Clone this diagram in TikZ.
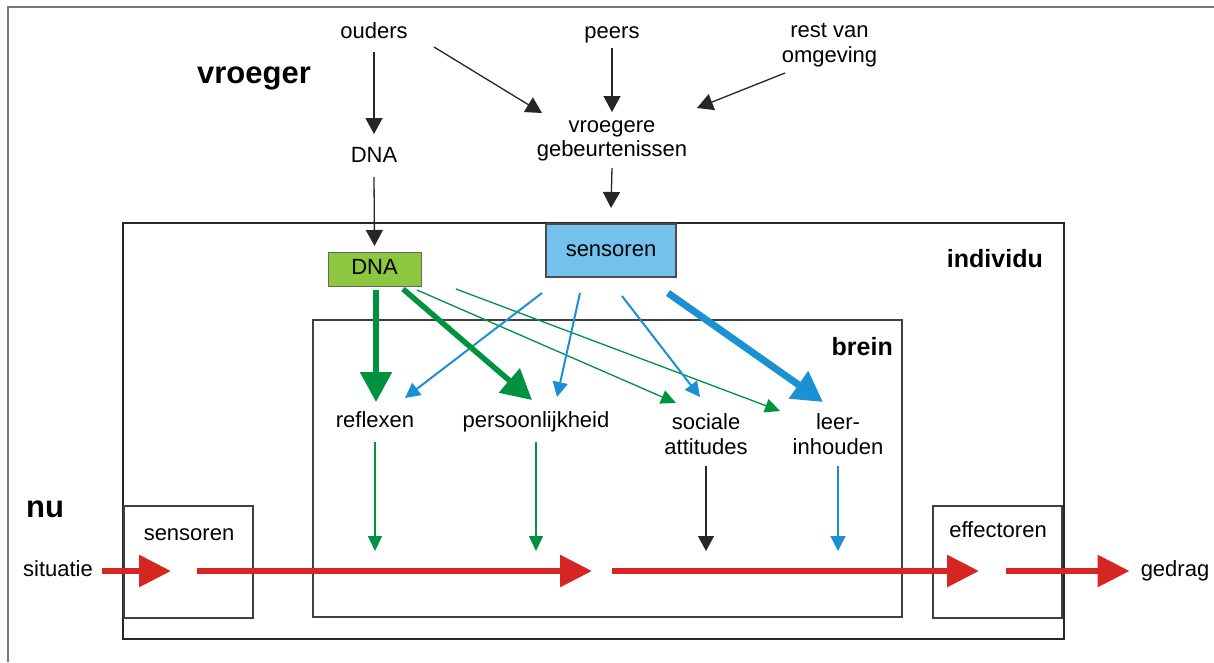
\documentclass[tikz,border=0pt]{standalone}
\usepackage{fontspec}
\setmainfont{Liberation Sans}
\usepackage{tikz}
\usetikzlibrary{positioning}
\usetikzlibrary{calc}
\usetikzlibrary{arrows.meta}

\definecolor{dnagreen}{RGB}{0,146,63}
\definecolor{dnafill}{RGB}{141,198,63}
\definecolor{senseblue}{RGB}{27,145,211}
\definecolor{sensefill}{RGB}{115,194,238}
\definecolor{flowred}{RGB}{214,38,33}
\definecolor{framegray}{RGB}{120,120,120}

\tikzset{
  lbl/.style={font=\fontsize{22}{24.5}\selectfont, inner sep=0pt, text height=15.8pt, text depth=4.6pt},
  lbltwo/.style={font=\fontsize{22}{24.5}\selectfont, inner sep=0pt, align=center},
  hdr/.style={font=\fontsize{31}{34}\selectfont\bfseries, inner sep=0pt},
  tag/.style={font=\fontsize{25}{28}\selectfont\bfseries, inner sep=0pt},
  box/.style={draw, inner sep=0pt, outer sep=0pt},
  blackarr/.style={-{Triangle[length=16pt,width=17pt]}, line width=1.3pt, black!85},
  greenthin/.style={-{Triangle[length=15pt,width=14pt]}, line width=1.3pt, dnagreen},
  greenthick/.style={-{Triangle[length=30pt,width=31pt]}, line width=5.5pt, dnagreen},
  bluethin/.style={-{Triangle[length=15pt,width=15pt]}, line width=2pt, senseblue},
  bluethick/.style={-{Triangle[length=30pt,width=32pt]}, line width=7pt, senseblue},
  redarr/.style={-{Triangle[length=32pt,width=31pt]}, line width=6pt, flowred}
}

\begin{document}
\begin{tikzpicture}[x=1pt, y=-1pt]
  \path[fill=white] (0,0) rectangle (1214,662);
  \useasboundingbox (0,0) rectangle (1214,662);
  \draw[framegray, line width=2pt] (8,662) -- (8,7) -- (1214,7);

  \node[hdr, anchor=base west] (vroeger) at (197,83) {vroeger};
  \node[hdr, anchor=base west] (nu) at (26,517) {nu};

  \node[lbl] (ouders) at (374,33) {ouders};
  \node[lbl] (peers) at (612,33) {peers};
  \node[lbltwo] (rest) at (829.5,45) {rest van\\omgeving};
  \node[lbl] (dnaword) at (374,157) {DNA};
  \node[lbltwo] (vroeg) at (612,141) {vroegere\\gebeurtenissen};

  \node[box, line width=2.5pt, black!85, minimum width=941pt, minimum height=416pt] (individu) at (593.5,431) {};
  \node[tag, anchor=base east] (indlabel) at (1043,267) {individu};
  \node[box, line width=1.3pt, black!75, minimum width=589pt, minimum height=297pt] (brein) at (607.5,468.5) {};
  \node[tag, anchor=base east] (breinlabel) at (893,355) {brein};
  \node[box, line width=1.3pt, black!75, minimum width=129pt, minimum height=112pt] (sens) at (188.5,562) {};
  \node[lbl] (senslabel) at (189,535) {sensoren};
  \node[box, line width=1.3pt, black!75, minimum width=129pt, minimum height=112pt] (eff) at (997.5,562) {};
  \node[lbl] (efflabel) at (998,532) {effectoren};

  \node[box, lbl, line width=1pt, draw=black!60, fill=dnafill, minimum width=93pt, minimum height=34pt] (dnabox) at (374.5,269) {DNA};
  \node[box, lbl, line width=1.2pt, draw=black!70, fill=sensefill, minimum width=130pt, minimum height=53pt] (sensbox) at (611,250.5) {sensoren};

  \node[lbl] (reflexen) at (375,422) {reflexen};
  \node[lbl] (persoon) at (536,422) {persoonlijkheid};
  \node[lbltwo] (sociale) at (706,434) {sociale\\attitudes};
  \node[lbltwo] (leer) at (838,434) {leer-\\inhouden};

  \node[lbl] (situatie) at (58,571) {situatie};
  \node[lbl] (gedrag) at (1175,571) {gedrag};

  \draw[blackarr] ($(ouders)+(0,19)$) -- ($(dnaword)+(0,-23)$);
  \draw[blackarr] ($(ouders)+(60,14)$) -- ($(vroeg)+(-70,-28)$);
  \draw[blackarr] ($(peers)+(0,15)$) -- ($(vroeg)+(0,-29)$);
  \draw[blackarr] ($(rest)+(-44.5,28)$) -- ($(vroeg)+(85,-33)$);
  \draw[blackarr] ($(dnaword)+(0,20)$) -- ($(dnabox.north)+(0,-6)$);
  \draw[blackarr] ($(vroeg)+(0,27)$) -- ($(sensbox.north)+(0,-16)$);

  \draw[greenthin] ($(dnabox.south)+(42.5,4)$) -- ($(sociale)+(-30,-31)$);
  \draw[greenthin] ($(dnabox.south)+(81.5,3)$) -- ($(leer)+(-58,-23)$);
  \draw[bluethin] ($(sensbox.south)+(-69,16)$) -- ($(reflexen)+(30,-24)$);
  \draw[bluethin] ($(sensbox.south)+(-31,16)$) -- ($(persoon)+(21,-25)$);
  \draw[bluethin] ($(sensbox.south)+(11,19)$) -- ($(sociale)+(-6,-37)$);
  \draw[greenthick] ($(dnabox.south)+(1.5,4)$) -- ($(reflexen)+(1,-20)$);
  \draw[greenthick] ($(dnabox.south)+(28.5,3)$) -- ($(persoon)+(-4,-22)$);
  \draw[bluethick] ($(sensbox.south)+(57,16)$) -- ($(leer)+(-15,-32)$);

  \draw[greenthin] ($(reflexen)+(0,20)$) -- ($(reflexen |- situatie)+(0,-20)$);
  \draw[greenthin] ($(persoon)+(0,20)$) -- ($(persoon |- situatie)+(0,-20)$);
  \draw[blackarr, -{Triangle[length=15pt,width=16pt]}] ($(sociale)+(0,32)$) -- ($(sociale |- situatie)+(0,-20)$);
  \draw[bluethin, line width=1.3pt] ($(leer)+(0,32)$) -- ($(leer |- situatie)+(0,-20)$);

  \draw[redarr] ($(situatie.east)+(9,0)$) -- ($(situatie -| sens.west)+(47,0)$);
  \draw[redarr] ($(situatie -| sens.east)+(-56,0)$) -- ($(situatie -| brein.center)+(-15.5,0)$);
  \draw[redarr] ($(situatie -| brein.center)+(4.5,0)$) -- ($(situatie -| eff.west)+(46,0)$);
  \draw[redarr] ($(situatie -| eff.east)+(-56,0)$) -- ($(gedrag.west)+(-11,0)$);
\end{tikzpicture}
\end{document}
